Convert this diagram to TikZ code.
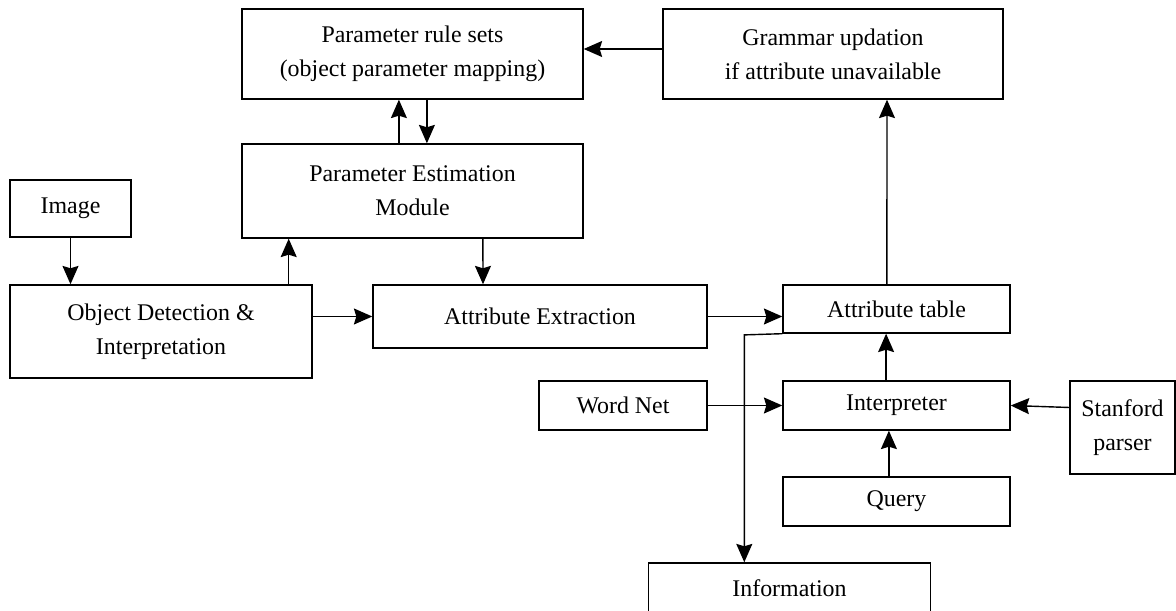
\documentclass[tikz,border=0pt]{standalone}
\usepackage{fontspec}
\setmainfont{Liberation Serif}
\usetikzlibrary{arrows.meta}

\tikzset{
    box/.style={draw, line width=1pt, align=center, inner sep=0pt, font=\fontsize{17pt}{24pt}\selectfont},
    link/.style={line width=1pt, -{Stealth[length=4.6mm, width=4mm, inset=0.6mm]}}
}

\begin{document}
\begin{tikzpicture}
    \useasboundingbox (0,0) rectangle (29.4,15.275);
    \node [box, minimum width=8.525cm, minimum height=2.25cm] (prs) at (10.3125,13.925) {Parameter rule sets\\(object parameter mapping)};
    \node [box, minimum width=8.5cm, minimum height=2.25cm] (gram) at (20.825,13.925) {Grammar updation\\if attribute unavailable};
    \node [box, minimum width=8.525cm, minimum height=2.35cm] (pem) at (10.3125,10.5) {Parameter Estimation\\Module};
    \node [box, minimum width=3.025cm, minimum height=1.425cm] (img) at (1.7625,10.0625) {Image};
    \node [box, minimum width=7.55cm, minimum height=2.325cm] (odi) at (4.025,6.9875) {Object Detection \&\\Interpretation};
    \node [box, minimum width=8.35cm, minimum height=1.575cm] (ae) at (13.5,7.3625) {Attribute Extraction};
    \node [box, minimum width=5.675cm, minimum height=1.2cm] (at) at (22.4125,7.55) {Attribute table};
    \node [box, minimum width=4.2cm, minimum height=1.225cm] (wn) at (15.575,5.1375) {Word Net};
    \node [box, minimum width=5.675cm, minimum height=1.225cm] (int) at (22.4125,5.1375) {Interpreter};
    \node [box, minimum width=2.625cm, minimum height=2.325cm] (stan) at (28.0625,4.5875) {Stanford\\parser};
    \node [box, minimum width=5.675cm, minimum height=1.225cm] (query) at (22.4125,2.7375) {Query};
    \node [box, minimum width=7.05cm, minimum height=1.25cm] (info) at (19.7375,0.575) {Information};

    \coordinate (odiup) at ([xshift=-6mm]odi.north east);
    \draw [link] ([yshift=1.25mm]gram.west) -- ([yshift=1.25mm]prs.east);
    \draw [link] ([xshift=-3.4mm]pem.north) -- ([xshift=-3.4mm]prs.south);
    \draw [link] ([xshift=3.6mm]prs.south) -- ([xshift=3.6mm]pem.north);
    \draw [link] (img.south) -- (img.south |- odi.north);
    \draw [link] (odiup) -- (odiup |- pem.south);
    \draw [link] ([xshift=17.6mm]pem.south) -- ([xshift=-14.25mm]ae.north);
    \draw [link] (odi.east |- ae.west) -- (ae.west);
    \draw [link] (ae.east) -- (ae.east -| at.west);
    \draw [link] ([xshift=-2.4mm]at.north) -- ([xshift=13.5mm]gram.south);
    \draw [link] ([xshift=-2.6mm]int.north) -- ([xshift=-2.6mm]at.south);
    \draw [link] ([xshift=-1.9mm]query.north) -- ([xshift=-1.9mm]int.south);
    \draw [link] (wn.east) -- (int.west);
    \draw [link] ([yshift=5mm]stan.west) -- (int.east);
    \draw [link] (at.south west) -- ++(-0.95,-0.03) coordinate (turn) -- (turn |- info.north);
\end{tikzpicture}
\end{document}
